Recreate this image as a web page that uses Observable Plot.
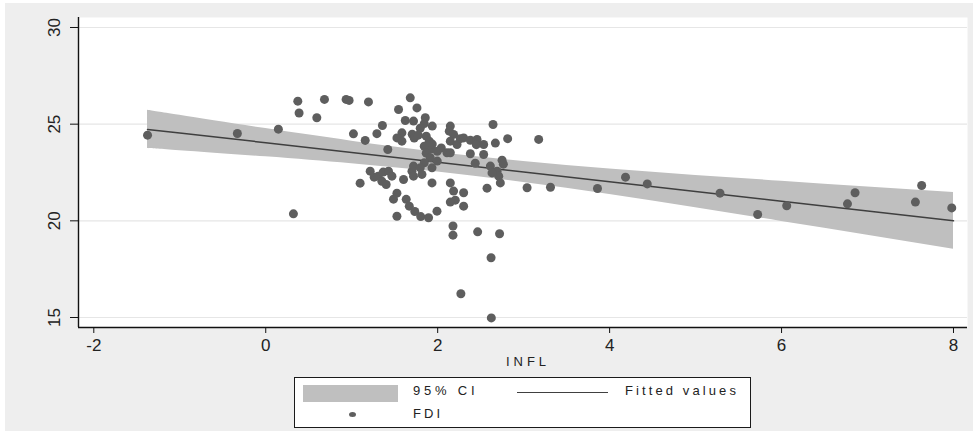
<!DOCTYPE html>
<html><head><meta charset="utf-8">
<script src="https://cdn.jsdelivr.net/npm/d3@7"></script>
<script src="https://cdn.jsdelivr.net/npm/@observablehq/plot@0.6"></script>
<style>
body{margin:0;background:#fff;font-family:"Liberation Sans",Arial,sans-serif;}
#wrap{position:relative;width:979px;height:435px;overflow:hidden;background:#fff;}
#panel{position:absolute;left:5px;top:3px;width:968px;height:428px;background:#eeeeee;}
#chart{position:absolute;left:0;top:0;}
.t{position:absolute;font-size:13px;line-height:16px;letter-spacing:3.1px;color:#222;white-space:nowrap;}
#legend{position:absolute;left:294px;top:377px;width:457px;height:51px;box-sizing:border-box;border:1.5px solid #1a1a1a;background:#fff;}
</style></head>
<body>
<div id="wrap">
  <div id="panel"></div>
  <div id="chart"></div>
  <div class="t" style="left:422px;width:204px;text-align:center;top:354px;letter-spacing:4px;padding-left:4px;">INFL</div>
  <div id="legend"></div>
  <div style="position:absolute;left:303px;top:385px;width:95px;height:17px;background:#bfbfbf;"></div>
  <div class="t" style="left:413px;top:383px;letter-spacing:3.8px;">95% CI</div>
  <div style="position:absolute;left:517px;top:391.5px;width:91px;height:1.5px;background:#404040;"></div>
  <div class="t" style="left:625px;top:383px;">Fitted values</div>
  <div style="position:absolute;left:348.5px;top:411.5px;width:7px;height:5px;border-radius:50%;background:#5e5e5e;"></div>
  <div class="t" style="left:413px;top:406px;">FDI</div>
</div>
<script>
const infl = [-1.375,-0.33,0.147,0.373,0.388,0.594,0.322,0.683,0.935,0.97,1.195,1.02,1.157,1.293,1.357,1.42,
1.681,1.545,1.759,1.623,1.719,1.856,1.844,1.584,1.526,1.584,1.704,1.727,1.867,1.902,1.844,1.925,1.867,1.914,1.844,1.937,
2.147,2.135,2.185,2.147,2.225,2.263,2.302,2.38,2.458,2.45,2.535,2.671,2.644,2.814,3.175,2.042,2.108,2.147,2.38,2.535,
2.437,2.749,2.613,2.691,2.71,2.729,2.632,2.764,2.574,3.04,3.312,2.302,2.302,2.185,2.205,2.147,2.147,
1.098,1.215,1.261,1.308,1.366,1.428,1.468,1.351,1.401,1.603,1.701,1.719,1.797,1.817,1.934,1.934,
1.526,1.486,1.634,1.67,1.734,1.803,1.894,1.992,1.526,2.178,2.178,2.465,2.72,2.621,2.27,2.624,
3.859,4.185,4.438,5.284,5.722,6.06,6.767,6.855,7.557,7.63,7.98,1.797,1.937,1.774,1.995,1.995,1.719];
const fdi = [24.43,24.52,24.74,26.19,25.58,25.33,20.36,26.28,26.28,26.23,26.15,24.50,24.16,24.51,24.93,23.69,
26.36,25.76,25.84,25.19,25.16,25.33,25.03,24.55,24.29,24.12,24.48,24.28,24.38,24.12,23.86,23.71,23.50,23.26,23.00,23.97,
24.90,24.64,24.47,24.12,23.95,24.25,24.29,24.17,24.21,23.94,23.95,24.02,24.98,24.25,24.21,23.77,23.52,23.52,23.47,23.43,
22.98,23.14,22.83,22.57,22.31,21.96,22.48,22.93,21.69,21.71,21.74,21.45,20.76,21.54,21.07,21.96,20.97,
21.95,22.57,22.26,22.31,22.52,22.57,22.31,22.05,21.88,22.14,22.57,22.83,22.74,22.40,22.74,21.96,
21.43,21.12,21.11,20.76,20.48,20.22,20.16,20.50,20.24,19.73,19.26,19.43,19.33,18.09,16.23,14.98,
21.67,22.26,21.91,21.43,20.33,20.78,20.88,21.45,20.97,21.83,20.67,24.79,24.90,24.43,23.60,23.09,22.31];

// 95% CI band and fitted values
const bandX  = [-1.375, -1, 0, 1, 2, 3, 4, 5, 6, 7, 8];
const bandLo = [23.74, 23.63, 23.31, 22.95, 22.52, 21.98, 21.36, 20.68, 19.97, 19.26, 18.53];
const bandHi = [25.72, 25.46, 24.77, 24.12, 23.54, 23.07, 22.68, 22.35, 22.05, 21.75, 21.47];
const fitted = [24.73, 24.545, 24.04, 23.535, 23.03, 22.525, 22.02, 21.515, 21.01, 20.505, 20.00];

const xTicks = [-2, 0, 2, 4, 6, 8];
const yTicks = [15, 20, 25, 30];

const pts = infl.map((x, i) => ({x, y: fdi[i]}));
const band = bandX.map((x, i) => ({x, lo: bandLo[i], hi: bandHi[i], fit: fitted[i]}));

const xmin = -2.178, xmax = 8.163, ymin = 14.483, ymax = 30.517;
const fmt = d => (d < 0 ? "-" + (-d) : String(d));

const chart = Plot.plot({
  width: 979, height: 375,
  marginLeft: 78, marginRight: 12, marginTop: 17, marginBottom: 48,
  style: {background: "transparent", fontFamily: "'Liberation Sans', Arial, sans-serif", fontSize: "17px", color: "#222"},
  x: {domain: [xmin, xmax], label: null},
  y: {domain: [ymin, ymax], label: null},
  marks: [
    Plot.frame({fill: "white", stroke: "none"}),
    Plot.gridY(yTicks, {stroke: "#e6e6e6", strokeOpacity: 1, strokeWidth: 1.2}),
    Plot.areaY(band, {x: "x", y1: "lo", y2: "hi", fill: "#bfbfbf", curve: "natural"}),
    Plot.line(band, {x: "x", y: "fit", stroke: "#3f3f3f", strokeWidth: 1.5}),
    Plot.dot(pts, {x: "x", y: "y", r: 4.5, fill: "#5e5e5e", stroke: "none"}),
    Plot.ruleX([xmin], {stroke: "#111", strokeWidth: 1.4}),
    Plot.ruleY([ymin], {stroke: "#111", strokeWidth: 1.4}),
    Plot.axisX(xTicks, {tickSize: 6, tickPadding: 5, fontSize: 17, label: null, stroke: "#111", tickFormat: fmt}),
    Plot.axisY(yTicks, {tickSize: 8, tickRotate: -90, tickPadding: 11, fontSize: 17, label: null, stroke: "#111"})
  ]
});
document.getElementById("chart").appendChild(chart);
</script>
</body></html>
